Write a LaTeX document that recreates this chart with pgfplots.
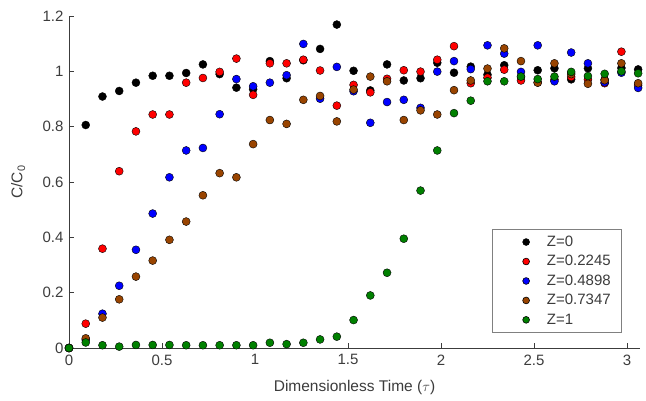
\documentclass[border=0pt]{standalone}
\usepackage{pgfplots}
\usepackage{pgfplotstable}
\pgfplotsset{compat=1.18}
\usepackage{fontspec}
\setmainfont{Liberation Sans}
\definecolor{axc}{RGB}{60,60,60}
\definecolor{mbrown}{RGB}{153,68,0}
\definecolor{mgreen}{RGB}{0,128,0}
\pgfplotstableread{
x a b c d e
0.00 0.000 0.000 0.000 0.000 0.000
0.09 0.806 0.088 0.030 0.035 0.020
0.18 0.909 0.359 0.124 0.110 0.010
0.27 0.929 0.639 0.225 0.176 0.005
0.36 0.959 0.783 0.355 0.258 0.011
0.45 0.984 0.844 0.486 0.316 0.011
0.54 0.984 0.844 0.617 0.391 0.011
0.63 0.994 0.959 0.714 0.457 0.010
0.72 1.025 0.976 0.723 0.552 0.010
0.81 0.990 0.998 0.845 0.632 0.010
0.90 0.941 1.046 0.972 0.617 0.010
0.99 0.935 0.915 0.946 0.737 0.010
1.08 1.037 1.029 0.959 0.824 0.019
1.17 0.975 1.029 0.986 0.810 0.014
1.26 1.040 1.042 1.099 0.897 0.019
1.35 1.081 1.003 0.901 0.911 0.031
1.44 1.169 0.876 1.016 0.819 0.041
1.53 1.002 0.951 0.928 0.934 0.101
1.62 0.931 0.924 0.814 0.981 0.190
1.71 1.025 0.973 0.889 0.964 0.272
1.80 0.967 1.004 0.897 0.824 0.395
1.89 0.975 0.999 0.868 0.859 0.569
1.98 1.031 1.042 0.999 0.844 0.714
2.07 0.995 1.091 1.037 0.932 0.849
2.16 1.017 0.957 1.008 0.967 0.894
2.25 0.988 0.977 1.094 1.010 0.964
2.34 1.022 1.006 1.064 1.083 0.964
2.43 0.980 0.967 0.998 1.037 0.981
2.52 1.004 0.960 1.094 0.959 0.972
2.61 1.011 0.970 0.964 1.029 0.981
2.70 0.971 0.980 1.068 0.990 0.998
2.79 1.011 0.970 1.029 0.955 0.983
2.88 0.970 0.957 0.960 0.968 0.991
2.97 1.012 1.071 0.995 1.029 1.000
3.06 1.007 0.950 0.940 0.957 0.993
}\datatable
\begin{document}
\begin{tikzpicture}
\path[use as bounding box] (-69pt,-52pt) rectangle (577pt,348pt);
\begin{axis}[
  scale only axis,
  width=571pt, height=332pt,
  xmin=0, xmax=3.07, ymin=0, ymax=1.2,
  axis x line*=bottom, axis y line*=left,
  x axis line style={-,axc}, y axis line style={-,axc},
  xtick={0,0.5,...,3}, ytick={0,0.2,...,1.2},
  xticklabels={0,0.5,1,1.5,2,2.5,3},
  yticklabels={0,0.2,0.4,0.6,0.8,1,1.2},
  tick align=inside, major tick length=5pt,
  tick style={axc, line width=0.6pt},
  tick label style={font=\fontsize{15}{17}\selectfont, text=axc},
  xticklabel style={yshift=-3pt},
  yticklabel style={xshift=-2pt},
  /pgf/number format/assume math mode=true,
  every axis x label/.style={at={(axis description cs:0.5,-0.12)}, anchor=center, font=\fontsize{15.5}{18}\selectfont, text=axc},
  every axis y label/.style={at={(axis description cs:-0.089,0.5)}, rotate=90, anchor=center, font=\fontsize{15.5}{18}\selectfont, text=axc},
  xlabel={Dimensionless Time ($\tau$)},
  ylabel={C/C\textsubscript{0}},
  clip=false,
  every axis plot/.append style={only marks, mark=*, mark size=4pt, mark options={draw=black!70, line width=0.5pt}},
  legend style={at={(axis description cs:0.9685,0.045)}, anchor=south east,
    draw=gray, line width=0.6pt, font=\fontsize{15}{17}\selectfont, text=axc,
    inner xsep=9pt, inner ysep=5pt, row sep=3.5pt,
    legend cell align=left},
  legend image code/.code={\draw[mark size=3.4pt] plot coordinates {(0.85cm,0cm)};\path (0cm,0cm) (1.5cm,0cm);},
]
\addplot[mark options={fill=black}] table[x=x,y=a] {\datatable};
\addplot[mark options={fill=red}] table[x=x,y=b] {\datatable};
\addplot[mark options={fill=blue}] table[x=x,y=c] {\datatable};
\addplot[mark options={fill=mbrown}] table[x=x,y=d] {\datatable};
\addplot[mark options={fill=mgreen}] table[x=x,y=e] {\datatable};
\legend{Z=0,Z=0.2245,Z=0.4898,Z=0.7347,Z=1}
\end{axis}
\end{tikzpicture}
\end{document}
